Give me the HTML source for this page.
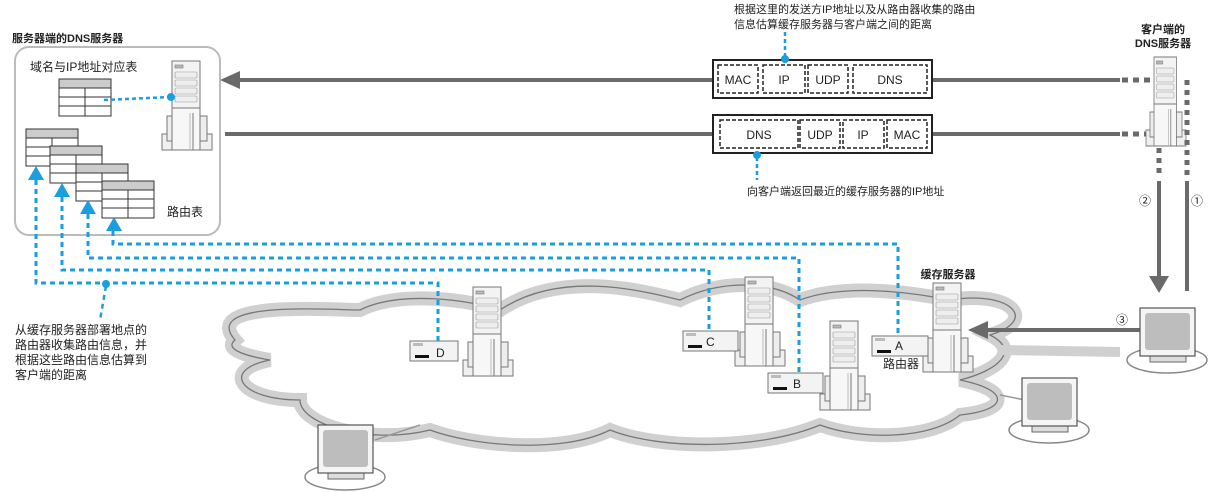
<!DOCTYPE html>
<html><head><meta charset="utf-8"><style>
html,body{margin:0;padding:0;background:#fff;}
svg{display:block;}
text{font-family:"Liberation Sans","Noto Sans CJK SC",sans-serif;fill:#222;}
</style></head><body>
<svg width="1218" height="492" viewBox="0 0 1218 492" xmlns="http://www.w3.org/2000/svg">
<defs>
<g id="srv">
 <rect x="10" y="0" width="28" height="47" fill="#f3f3f3" stroke="#777" stroke-width="1"/>
 <rect x="13" y="4" width="8" height="3" fill="#bbb" stroke="#777" stroke-width="0.6"/>
 <rect x="13" y="11" width="22" height="6" rx="1" fill="#eee" stroke="#999" stroke-width="0.6"/>
 <rect x="13" y="19" width="22" height="6" rx="1" fill="#eee" stroke="#999" stroke-width="0.6"/>
 <rect x="13" y="27" width="22" height="6" rx="1" fill="#eee" stroke="#999" stroke-width="0.6"/>
 <rect x="13" y="35" width="22" height="6" rx="1" fill="#eee" stroke="#999" stroke-width="0.6"/>
 <rect x="0" y="73" width="50" height="16" fill="#f0f0f0" stroke="#777" stroke-width="1"/>
 <rect x="5" y="55" width="40" height="25" fill="#eee" stroke="#777" stroke-width="1"/>
 <rect x="10" y="47" width="28" height="42" fill="#f7f7f7" stroke="#777" stroke-width="1"/>
 <line x1="31" y1="52" x2="31" y2="89" stroke="#777"/>
 <line x1="28" y1="52" x2="28" y2="89" stroke="#bbb"/>
</g>
<g id="mon">
 <ellipse cx="27" cy="52" rx="40" ry="13" fill="none" stroke="#888" stroke-width="1.5"/>
 <rect x="10" y="45" width="36" height="9" fill="#ddd" stroke="#666"/>
 <rect x="0" y="0" width="55" height="48" fill="#f5f5f5" stroke="#555" stroke-width="1.2"/>
 <rect x="5" y="5" width="45" height="37" rx="3" fill="#bdbdbd"/>
</g>
<g id="tbl">
 <rect x="0" y="0" width="52" height="37" fill="#fff" stroke="#333" stroke-width="1"/>
 <rect x="0" y="0" width="52" height="9" fill="#ccc" stroke="#333" stroke-width="1"/>
 <line x1="0" y1="18" x2="52" y2="18" stroke="#333"/>
 <line x1="0" y1="27" x2="52" y2="27" stroke="#333"/>
 <line x1="26" y1="9" x2="26" y2="37" stroke="#333"/>
</g>
<path id="cl" d="M235,340 C200,300 330,310 360,310 C400,290 470,300 500,310 C560,270 640,290 680,300 C720,280 770,280 800,300 C840,285 900,290 950,300 C1010,290 1040,320 990,335 C1020,350 1000,370 960,380 C1010,390 1010,410 960,415 C930,440 860,440 820,425 C760,450 660,450 610,430 C560,455 470,445 430,430 C370,445 300,425 300,400 C240,400 220,370 270,360 C240,355 225,348 235,340 Z"/>
</defs>

<!-- cloud -->
<use href="#cl" fill="#fff" stroke="#d0d0d0" stroke-width="14"/>
<use href="#cl" fill="none" stroke="#777" stroke-width="1.3"/>
<line x1="1000" y1="350" x2="1120" y2="352" stroke="#d0d0d0" stroke-width="10"/>
<line x1="375" y1="440" x2="420" y2="425" stroke="#999" stroke-width="1.5"/>
<line x1="1000" y1="395" x2="1025" y2="400" stroke="#999" stroke-width="1.5"/>

<!-- Server-side DNS box -->
<text x="12" y="42" font-size="11" font-weight="bold">服务器端的DNS服务器</text>
<rect x="15" y="47" width="205" height="188" rx="14" fill="#fff" stroke="#bbb" stroke-width="2"/>
<text x="30" y="71" font-size="12">域名与IP地址对应表</text>
<use href="#tbl" x="59" y="79"/>
<use href="#srv" x="162" y="61"/>
<use href="#tbl" x="26" y="129"/>
<use href="#tbl" x="50" y="146"/>
<use href="#tbl" x="76" y="164"/>
<use href="#tbl" x="102" y="181"/>
<text x="167" y="216" font-size="12">路由表</text>
<line x1="104" y1="100" x2="170" y2="97" stroke="#1a9ee0" stroke-width="2.5" stroke-dasharray="4 3"/>
<circle cx="171" cy="97" r="4" fill="#1a9ee0"/>

<!-- top/bottom lines -->
<line x1="238" y1="80" x2="1120" y2="80" stroke="#6a6a6a" stroke-width="4"/>
<polygon points="220,80 240,71 240,89" fill="#6a6a6a"/>
<line x1="1122" y1="80" x2="1175" y2="80" stroke="#6a6a6a" stroke-width="5" stroke-dasharray="6 5"/>
<line x1="225" y1="134" x2="1120" y2="134" stroke="#6a6a6a" stroke-width="4"/>
<line x1="1122" y1="134" x2="1155" y2="134" stroke="#6a6a6a" stroke-width="5" stroke-dasharray="6 5"/>

<!-- packets -->
<g font-size="12" text-anchor="middle">
<rect x="713" y="60" width="219" height="38" fill="#fff" stroke="#222" stroke-width="2"/>
<g fill="none" stroke="#222" stroke-width="1.5" stroke-dasharray="4 2">
<rect x="718" y="65" width="40" height="28"/><rect x="763" y="65" width="42" height="28"/><rect x="808" y="65" width="40" height="28"/><rect x="853" y="65" width="74" height="28"/>
</g>
<text x="738" y="84">MAC</text><text x="784" y="84">IP</text><text x="828" y="84">UDP</text><text x="890" y="84">DNS</text>
<rect x="713" y="115" width="219" height="38" fill="#fff" stroke="#222" stroke-width="2"/>
<g fill="none" stroke="#222" stroke-width="1.5" stroke-dasharray="4 2">
<rect x="720" y="120" width="78" height="28"/><rect x="800" y="120" width="40" height="28"/><rect x="843" y="120" width="41" height="28"/><rect x="887" y="120" width="40" height="28"/>
</g>
<text x="759" y="139">DNS</text><text x="820" y="139">UDP</text><text x="863" y="139">IP</text><text x="907" y="139">MAC</text>
</g>
<line x1="785" y1="32" x2="785" y2="57" stroke="#1a9ee0" stroke-width="2.5" stroke-dasharray="4 3"/>
<circle cx="785" cy="59" r="4" fill="#1a9ee0"/>
<text x="734" y="13" font-size="11">根据这里的发送方IP地址以及从路由器收集的路由</text>
<text x="734" y="28" font-size="11">信息估算缓存服务器与客户端之间的距离</text>
<circle cx="757" cy="155" r="4" fill="#1a9ee0"/>
<line x1="757" y1="157" x2="757" y2="180" stroke="#1a9ee0" stroke-width="2.5" stroke-dasharray="4 3"/>
<text x="747" y="195" font-size="11">向客户端返回最近的缓存服务器的IP地址</text>

<!-- client DNS -->
<text x="1163" y="33" font-size="11" font-weight="bold" text-anchor="middle">客户端的</text>
<text x="1163" y="47" font-size="11" font-weight="bold" text-anchor="middle">DNS服务器</text>
<g transform="translate(1146,57) scale(0.8,1)"><use href="#srv"/></g>
<line x1="1187" y1="80" x2="1187" y2="178" stroke="#6a6a6a" stroke-width="5" stroke-dasharray="5 5"/>
<line x1="1159" y1="148" x2="1159" y2="178" stroke="#6a6a6a" stroke-width="5" stroke-dasharray="5 5"/>
<line x1="1159" y1="181" x2="1159" y2="278" stroke="#6a6a6a" stroke-width="4"/>
<polygon points="1149,276 1169,276 1159,293" fill="#6a6a6a"/>
<line x1="1187" y1="181" x2="1187" y2="291" stroke="#6a6a6a" stroke-width="4"/>
<text x="1145" y="205" font-size="12" text-anchor="middle">②</text>
<text x="1197" y="205" font-size="12" text-anchor="middle">①</text>

<!-- arrow 3 -->
<line x1="985" y1="330" x2="1140" y2="330" stroke="#6a6a6a" stroke-width="4"/>
<polygon points="968,330 988,321 988,339" fill="#6a6a6a"/>
<text x="1122" y="324" font-size="12" text-anchor="middle">③</text>
<use href="#mon" x="1140" y="308"/>
<use href="#mon" x="1022" y="378"/>
<use href="#mon" x="318" y="425"/>

<!-- servers in cloud -->
<use href="#srv" x="463" y="287"/>
<use href="#srv" x="735" y="277"/>
<use href="#srv" x="820" y="321"/>
<use href="#srv" x="923" y="283"/>
<text x="948" y="278" font-size="11" font-weight="bold" text-anchor="middle">缓存服务器</text>

<!-- routers -->
<g font-size="12">
<rect x="410" y="341" width="48" height="20" fill="#f3f3f3" stroke="#777"/><rect x="413" y="343" width="10" height="3" fill="#bbb"/><text x="436" y="357">D</text><rect x="415" y="355" width="14" height="3" fill="#111"/>
<rect x="683" y="331" width="55" height="20" fill="#f3f3f3" stroke="#777"/><rect x="686" y="333" width="10" height="3" fill="#bbb"/><text x="706" y="346">C</text><rect x="688" y="345" width="14" height="3" fill="#111"/>
<rect x="768" y="373" width="55" height="20" fill="#f3f3f3" stroke="#777"/><rect x="771" y="375" width="10" height="3" fill="#bbb"/><text x="793" y="388">B</text><rect x="773" y="387" width="14" height="3" fill="#111"/>
<rect x="872" y="336" width="56" height="20" fill="#f3f3f3" stroke="#777"/><rect x="875" y="338" width="10" height="3" fill="#bbb"/><text x="895" y="350">A</text><rect x="877" y="350" width="14" height="3" fill="#111"/>
</g>
<text x="883" y="368" font-size="12">路由器</text>

<!-- blue paths -->
<g fill="none" stroke="#1a9ee0" stroke-width="3" stroke-dasharray="5 4">
<polyline points="113,222 113,244 898,244 898,336"/>
<polyline points="88,205 88,258 799,258 799,372"/>
<polyline points="62,188 62,270 709,270 709,331"/>
<polyline points="36,171 36,283 438,283 438,341"/>
<line x1="106" y1="286" x2="100" y2="320" stroke-width="2.5"/>
</g>
<g fill="#1a9ee0">
<polygon points="36,166 28,180 44,180"/>
<polygon points="62,183 54,197 70,197"/>
<polygon points="88,200 80,214 96,214"/>
<polygon points="114,217 106,231 122,231"/>
<circle cx="106" cy="284" r="4"/>
</g>
<g font-size="12">
<text x="15" y="334">从缓存服务器部署地点的</text>
<text x="15" y="349">路由器收集路由信息，并</text>
<text x="15" y="364">根据这些路由信息估算到</text>
<text x="15" y="379">客户端的距离</text>
</g>
</svg>
</body></html>
